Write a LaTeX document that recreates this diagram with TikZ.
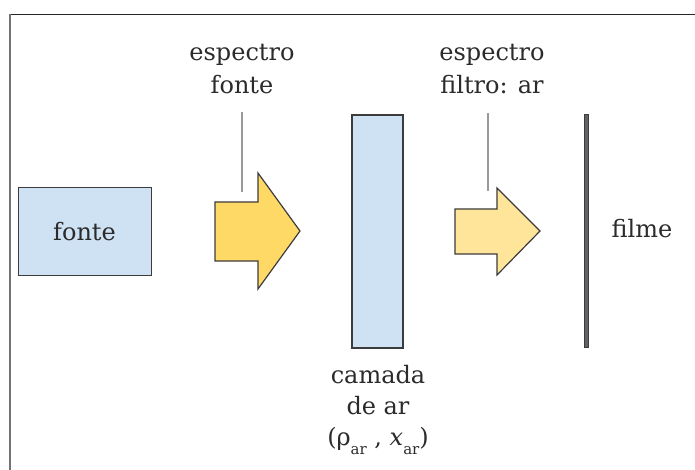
\documentclass[tikz,border=0pt]{standalone}
\usepackage{fontspec}
\setmainfont{DejaVu Serif}
\definecolor{boxblue}{HTML}{CFE2F3}
\definecolor{arrowA}{HTML}{FFD966}
\definecolor{arrowB}{HTML}{FFE599}
\definecolor{edgecol}{HTML}{3C3C3C}
\definecolor{txtcol}{HTML}{2B2B2B}
\definecolor{filmcol}{HTML}{5F6368}
\begin{document}
\begin{tikzpicture}[x=1pt,y=-1pt,
  lbl/.style={text=txtcol,font=\fontsize{24}{33}\selectfont,align=center,inner sep=0pt},
  bluebox/.style={draw=edgecol,line width=1.2pt,fill=boxblue},
  arrowshape/.style={draw=edgecol,line width=1.2pt,line join=miter},
  pointer/.style={draw=gray!80,line width=1.3pt}]
\useasboundingbox (0,0) rectangle (695,470);
\fill[white] (0,0) rectangle (695,470);
% frame
\draw[black!85,line width=1.5pt] (9,14.5) -- (695,14.5);
\draw[gray!90!black,line width=2pt] (9.5,14) -- (9.5,470);
% source box
\node[bluebox,minimum width=133pt,minimum height=88pt,inner sep=0pt] (fonte) at (85,231.5) {};
\node[lbl] (fontetxt) at (84.5,232) {fonte};
% arrow 1
\draw[arrowshape,fill=arrowA] (215,202) -- (258,202) -- (258,173) -- (300,231) -- (258,289) -- (258,261) -- (215,261) -- cycle;
\coordinate (a1top) at (242,192);
% label 1
\node[lbl] (lab1) at (242,69.5) {espectro\\fonte};
\coordinate (l1start) at (242,112);
\draw[pointer] (l1start) -- (a1top);
% camada
\node[bluebox,minimum width=51pt,minimum height=233pt,inner sep=0pt] (camada) at (377.5,231.5) {};
\node[lbl,font=\fontsize{24}{31}\selectfont] (camtxt) at (378,410) {camada\\de ar\\(ρ\raisebox{-0.35em}{\fontsize{15}{15}\selectfont ar} , \textit{x}\raisebox{-0.35em}{\fontsize{15}{15}\selectfont ar})};
% arrow 2
\draw[arrowshape,fill=arrowB] (455,209) -- (497,209) -- (497,188) -- (540,231) -- (497,275) -- (497,254) -- (455,254) -- cycle;
\coordinate (a2top) at (488,191);
\node[lbl] (lab2) at (492,69.5) {espectro\\filtro: ar};
\coordinate (l2start) at (488,113);
\draw[pointer] (l2start) -- (a2top);
% film
\node[draw=edgecol,fill=filmcol,line width=0.8pt,minimum width=4pt,minimum height=233pt,inner sep=0pt] (filme) at (586.5,231) {};
\node[lbl] (filmetxt) at (642,229) {filme};
\end{tikzpicture}
\end{document}
